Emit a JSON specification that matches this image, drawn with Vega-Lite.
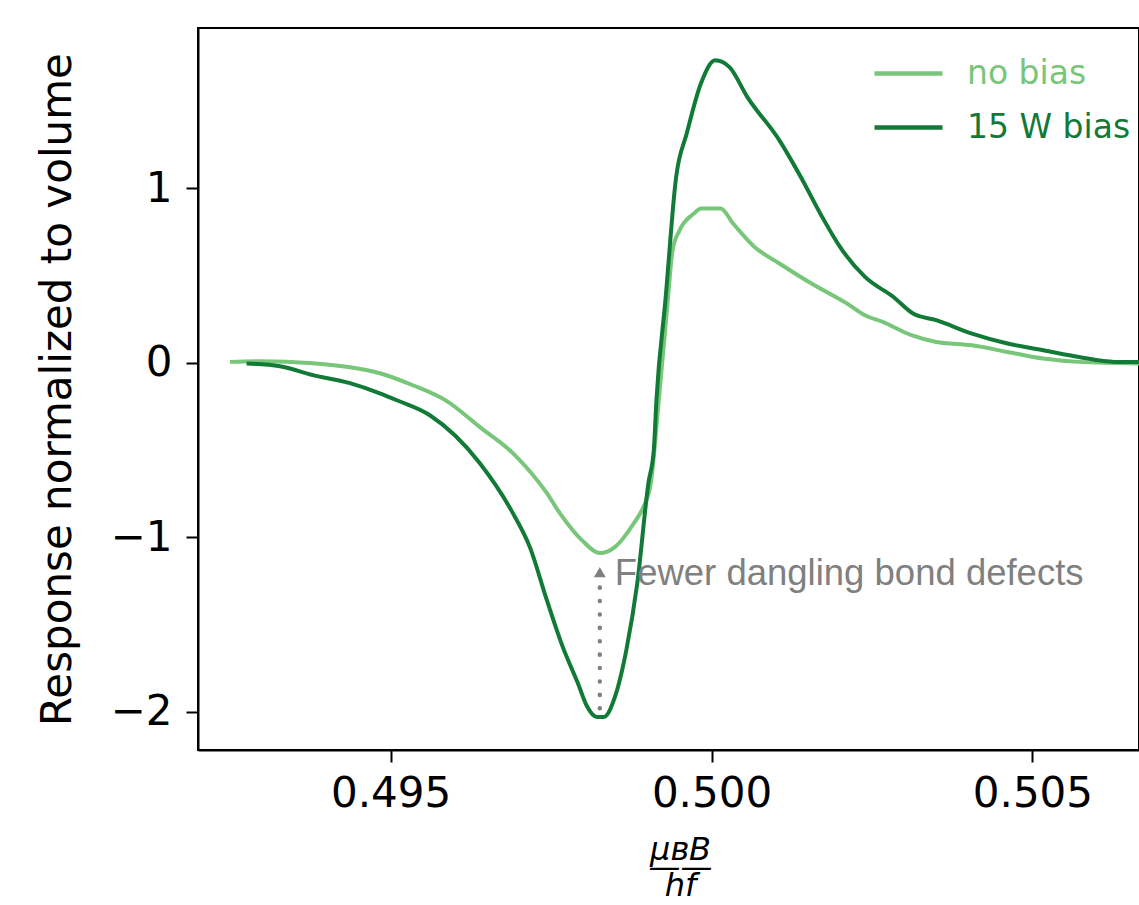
{
  "$schema": "https://vega.github.io/schema/vega-lite/v6.json",
  "width": 941,
  "height": 722,
  "autosize": {"type": "none"},
  "padding": {"left": 198, "top": 28, "right": 0, "bottom": 155},
  "background": "white",
  "config": {
    "view": {"stroke": "black", "strokeWidth": 2},
    "axis": {
      "grid": false,
      "domainColor": "black",
      "domainWidth": 2,
      "tickColor": "black",
      "tickWidth": 2,
      "tickSize": 12,
      "labelFont": "DejaVu Sans",
      "labelFontSize": 42,
      "labelColor": "black",
      "titleFont": "DejaVu Sans",
      "titleColor": "black",
      "titleFontWeight": "normal"
    }
  },
  "datasets": {
    "curves": [
      {"series": "no bias", "x": 0.492497, "y": 0.006},
      {"series": "no bias", "x": 0.492964, "y": 0.010},
      {"series": "no bias", "x": 0.49379, "y": -0.002},
      {"series": "no bias", "x": 0.494366, "y": -0.025},
      {"series": "no bias", "x": 0.494833, "y": -0.059},
      {"series": "no bias", "x": 0.495347, "y": -0.128},
      {"series": "no bias", "x": 0.495877, "y": -0.219},
      {"series": "no bias", "x": 0.496391, "y": -0.368},
      {"series": "no bias", "x": 0.496905, "y": -0.517},
      {"series": "no bias", "x": 0.497435, "y": -0.747},
      {"series": "no bias", "x": 0.497637, "y": -0.861},
      {"series": "no bias", "x": 0.49798, "y": -1.016},
      {"series": "no bias", "x": 0.49826, "y": -1.090},
      {"series": "no bias", "x": 0.498494, "y": -1.056},
      {"series": "no bias", "x": 0.49879, "y": -0.919},
      {"series": "no bias", "x": 0.49893, "y": -0.833},
      {"series": "no bias", "x": 0.499054, "y": -0.689},
      {"series": "no bias", "x": 0.499179, "y": -0.214},
      {"series": "no bias", "x": 0.499319, "y": 0.359},
      {"series": "no bias", "x": 0.499393, "y": 0.646},
      {"series": "no bias", "x": 0.499503, "y": 0.760},
      {"series": "no bias", "x": 0.499726, "y": 0.856},
      {"series": "no bias", "x": 0.499836, "y": 0.885},
      {"series": "no bias", "x": 0.500142, "y": 0.885},
      {"series": "no bias", "x": 0.500336, "y": 0.799},
      {"series": "no bias", "x": 0.50067, "y": 0.665},
      {"series": "no bias", "x": 0.501058, "y": 0.570},
      {"series": "no bias", "x": 0.501558, "y": 0.455},
      {"series": "no bias", "x": 0.502114, "y": 0.340},
      {"series": "no bias", "x": 0.502391, "y": 0.273},
      {"series": "no bias", "x": 0.502668, "y": 0.235},
      {"series": "no bias", "x": 0.503114, "y": 0.159},
      {"series": "no bias", "x": 0.503502, "y": 0.120},
      {"series": "no bias", "x": 0.504058, "y": 0.101},
      {"series": "no bias", "x": 0.504612, "y": 0.063},
      {"series": "no bias", "x": 0.505168, "y": 0.025},
      {"series": "no bias", "x": 0.505723, "y": 0.006},
      {"series": "no bias", "x": 0.50666, "y": -0.003},
      {"series": "15 W bias", "x": 0.492757, "y": -0.003},
      {"series": "15 W bias", "x": 0.493276, "y": -0.019},
      {"series": "15 W bias", "x": 0.49379, "y": -0.070},
      {"series": "15 W bias", "x": 0.494366, "y": -0.116},
      {"series": "15 W bias", "x": 0.494833, "y": -0.174},
      {"series": "15 W bias", "x": 0.495098, "y": -0.214},
      {"series": "15 W bias", "x": 0.495612, "y": -0.300},
      {"series": "15 W bias", "x": 0.496391, "y": -0.575},
      {"series": "15 W bias", "x": 0.496905, "y": -0.861},
      {"series": "15 W bias", "x": 0.49717, "y": -1.056},
      {"series": "15 W bias", "x": 0.497435, "y": -1.360},
      {"series": "15 W bias", "x": 0.497684, "y": -1.629},
      {"series": "15 W bias", "x": 0.497917, "y": -1.835},
      {"series": "15 W bias", "x": 0.498058, "y": -1.967},
      {"series": "15 W bias", "x": 0.498213, "y": -2.030},
      {"series": "15 W bias", "x": 0.498322, "y": -2.030},
      {"series": "15 W bias", "x": 0.498494, "y": -1.916},
      {"series": "15 W bias", "x": 0.498673, "y": -1.646},
      {"series": "15 W bias", "x": 0.498844, "y": -1.262},
      {"series": "15 W bias", "x": 0.499017, "y": -0.689},
      {"series": "15 W bias", "x": 0.499101, "y": -0.500},
      {"series": "15 W bias", "x": 0.499142, "y": -0.214},
      {"series": "15 W bias", "x": 0.499282, "y": 0.359},
      {"series": "15 W bias", "x": 0.499449, "y": 1.066},
      {"series": "15 W bias", "x": 0.499615, "y": 1.316},
      {"series": "15 W bias", "x": 0.499836, "y": 1.603},
      {"series": "15 W bias", "x": 0.500059, "y": 1.735},
      {"series": "15 W bias", "x": 0.50028, "y": 1.696},
      {"series": "15 W bias", "x": 0.500559, "y": 1.524},
      {"series": "15 W bias", "x": 0.501058, "y": 1.276},
      {"series": "15 W bias", "x": 0.501391, "y": 1.066},
      {"series": "15 W bias", "x": 0.501724, "y": 0.837},
      {"series": "15 W bias", "x": 0.502002, "y": 0.665},
      {"series": "15 W bias", "x": 0.502391, "y": 0.493},
      {"series": "15 W bias", "x": 0.502835, "y": 0.378},
      {"series": "15 W bias", "x": 0.50314, "y": 0.283},
      {"series": "15 W bias", "x": 0.503502, "y": 0.245},
      {"series": "15 W bias", "x": 0.504058, "y": 0.168},
      {"series": "15 W bias", "x": 0.504612, "y": 0.111},
      {"series": "15 W bias", "x": 0.505168, "y": 0.073},
      {"series": "15 W bias", "x": 0.505723, "y": 0.034},
      {"series": "15 W bias", "x": 0.506279, "y": 0.006},
      {"series": "15 W bias", "x": 0.50666, "y": 0.006}
    ],
    "ann": [
      {"x": 0.49826, "y": -1.98, "y2": -1.28, "tip": -1.20, "tx": 0.498494, "ty": -1.274, "label": "Fewer dangling bond defects"}
    ]
  },
  "layer": [
    {
      "data": {"name": "curves"},
      "mark": {"type": "line", "strokeWidth": 4, "clip": true, "interpolate": "monotone"},
      "encoding": {
        "x": {
          "field": "x",
          "type": "quantitative",
          "scale": {"domain": [0.492, 0.50666], "zero": false, "nice": false},
          "axis": {
            "values": [0.495, 0.5, 0.505],
            "format": ".3f",
            "labelPadding": 11,
            "title": ["μʙB", "——", "hf"],
            "titleFontSize": 32,
            "titleFontStyle": "italic",
            "titleLineHeight": 18,
            "titlePadding": 20,
            "titleX": 482
          }
        },
        "y": {
          "field": "y",
          "type": "quantitative",
          "scale": {"domain": [-2.219, 1.92], "zero": false, "nice": false},
          "axis": {
            "values": [-2, -1, 0, 1],
            "format": "d",
            "labelPadding": 14,
            "title": "Response normalized to volume",
            "titleFontSize": 42,
            "titlePadding": 31
          }
        },
        "color": {
          "field": "series",
          "type": "nominal",
          "sort": ["no bias", "15 W bias"],
          "scale": {"domain": ["no bias", "15 W bias"], "range": ["#78c679", "#127a37"]},
          "legend": {
            "orient": "none",
            "legendX": 674,
            "legendY": 9,
            "title": null,
            "padding": 0,
            "symbolType": "stroke",
            "symbolSize": 4624,
            "symbolStrokeWidth": 4.5,
            "labelFont": "DejaVu Sans",
            "labelFontSize": 33,
            "labelOffset": 22,
            "labelLimit": 400,
            "rowPadding": -25,
            "encode": {
              "labels": {"update": {"fill": {"signal": "datum.value === 'no bias' ? '#78c679' : '#127a37'"}}}
            }
          }
        }
      }
    },
    {
      "data": {"name": "ann"},
      "mark": {"type": "rule", "color": "#808080", "strokeWidth": 4.5, "strokeCap": "round", "strokeDash": [0.1, 13.3]},
      "encoding": {
        "x": {"field": "x", "type": "quantitative"},
        "y": {"field": "y", "type": "quantitative"},
        "y2": {"field": "y2"}
      }
    },
    {
      "data": {"name": "ann"},
      "mark": {"type": "point", "shape": "triangle-up", "filled": true, "size": 140, "color": "#808080", "opacity": 1},
      "encoding": {
        "x": {"field": "x", "type": "quantitative"},
        "y": {"field": "tip", "type": "quantitative"}
      }
    },
    {
      "data": {"name": "ann"},
      "mark": {"type": "text", "font": "Liberation Sans", "fontSize": 36.5, "color": "#808080", "align": "left", "baseline": "alphabetic"},
      "encoding": {
        "x": {"field": "tx", "type": "quantitative"},
        "y": {"field": "ty", "type": "quantitative"},
        "text": {"field": "label"}
      }
    }
  ]
}
